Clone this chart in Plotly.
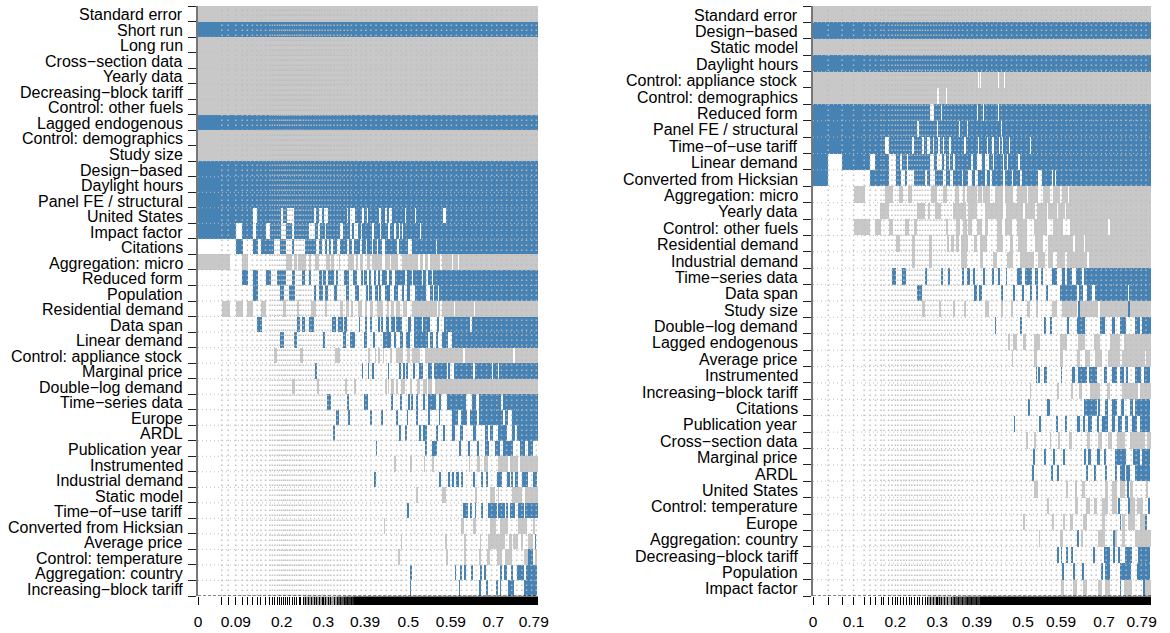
import plotly.graph_objects as go

MAX_X = 0.8
BLUE = "#4682B4"
GREY = "#C8C8C8"

left_labels = ["Standard error","Short run","Long run","Cross−section data","Yearly data","Decreasing−block tariff","Control: other fuels","Lagged endogenous","Control: demographics","Study size","Design−based","Daylight hours","Panel FE / structural","United States","Impact factor","Citations","Aggregation: micro","Reduced form","Population","Residential demand","Data span","Linear demand","Control: appliance stock","Marginal price","Double−log demand","Time−series data","Europe","ARDL","Publication year","Instrumented","Industrial demand","Static model","Time−of−use tariff","Converted from Hicksian","Average price","Control: temperature","Aggregation: country","Increasing−block tariff"]

# Each list: positions (cumulative model probability) where the variable toggles in/out; odd length = stays in to the end
left_blue = [
 [],[0],[],[],[],[],[],[0],[],[],[0],[0],[0],
 [0,.129,.138,.195,.201,.209,.226,.274,.278,.285,.291,.297,.305,.350,.354,.358,.369,.387,.391,.397,.399,.426,.431,.440,.444,.450,.456,.487,.489,.511,.513,.577,.583],
 [0,.089,.103,.130,.136,.160,.169,.195,.207,.221,.226,.260,.275,.283,.287,.298,.300,.334,.340,.358,.363,.367,.377,.383,.387,.409,.413,.428,.431,.448,.452,.462,.465,.474,.477,.481,.482,.522,.525,.533,.535],
 [.089,.106,.130,.140,.148,.179,.193,.206,.220,.226,.252,.278,.285,.291,.301,.304,.309,.313,.318,.326,.334,.351,.356,.363,.368,.381,.387,.395,.398,.409,.411,.420,.424,.432,.440,.469,.473,.495,.503,.559,.562],
 [],
 [.103,.117,.129,.140,.160,.172,.187,.206,.220,.228,.244,.252,.262,.267,.285,.291,.295,.301,.307,.320,.326,.330,.344,.355,.365,.373,.384,.387,.391,.398,.403,.407,.413,.419,.423,.428,.434,.444,.449,.456,.464,.487,.491,.503,.507,.526,.530,.536,.540,.550,.554],
 [.129,.140,.193,.202,.214,.228,.273,.278,.285,.295,.299,.305,.320,.327,.348,.356,.369,.379,.397,.399,.403,.409,.416,.424,.428,.431,.440,.452,.460,.471,.479,.485,.491,.499,.511,.536,.546,.552,.555,.565,.568],
 [],
 [.138,.151,.234,.240,.245,.251,.261,.273,.316,.324,.330,.342,.344,.351,.379,.381,.393,.397,.405,.408,.424,.426,.432,.434,.442,.450,.454,.464,.467,.479,.493,.501,.508,.526,.530,.547,.562,.568,.579,.640,.644],
 [.193,.202,.226,.233,.293,.299,.340,.348,.358,.369,.391,.398,.411,.416,.436,.454,.461,.467,.475,.482,.489,.499,.508,.540,.547,.554,.559,.565,.573,.589,.597],
 [],
 [.275,.280,.387,.388,.400,.402,.410,.412,.448,.449,.475,.478,.483,.486,.491,.495,.505,.511,.519,.530,.542,.550,.556,.585,.589,.593,.602,.648,.652,.691,.695,.707,.709],
 [],
 [.304,.313,.351,.353,.391,.399,.456,.458,.477,.480,.495,.497,.503,.505,.513,.518,.530,.533,.542,.560,.568,.571,.585,.631,.644,.654,.660,.714,.718],
 [.327,.331,.355,.357,.405,.408,.431,.433,.468,.470,.492,.493,.515,.516,.541,.547,.568,.569,.597,.611,.618,.632,.640,.657,.662,.718,.722,.730,.738],
 [.318,.322,.475,.478,.489,.492,.521,.524,.530,.538,.562,.563,.577,.579,.597,.605,.616,.623,.648,.654,.675,.683,.687,.695,.707,.726,.738,.746,.750],
 [.419,.421,.536,.539,.550,.562,.616,.618,.636,.638,.656,.661,.677,.679,.682,.685,.699,.711,.718,.742,.758,.769,.777,.789],
 [],
 [.416,.419,.568,.572,.589,.591,.599,.602,.609,.613,.620,.624,.648,.652,.666,.671,.679,.681,.703,.715,.726,.734,.738,.742,.746,.754,.762,.777,.789,.797],
 [],
 [.492,.495,.624,.636,.640,.644,.652,.654,.667,.671,.683,.703,.707,.722,.726,.730,.734,.746,.754,.768,.769],
 [],
 [.794,.795],
 [.777,.789],
 [.501,.504,.605,.607,.617,.620,.627,.630,.644,.645,.664,.668,.674,.677,.711,.715,.722,.726,.737,.742,.750,.766,.772,.797],
 [.499,.500,.615,.616,.662,.664,.679,.681,.703,.707,.711,.712,.729,.744,.767,.797],
]
left_grey = [
 [0],[],[0],[0],[0],[0],[0],[],[0],[0],[],[],[],[],[],[],
 [0,.075,.103,.118,.207,.221,.226,.234,.236,.254,.260,.265,.275,.285,.301,.311,.313,.321,.332,.334,.354,.367,.371,.377,.380,.389,.397,.405,.409,.432,.440,.452,.454,.471,.479,.518,.522,.529,.533,.542,.547,.569,.573,.585,.587,.597,.601,.611,.613],
 [],[],
 [.056,.075,.089,.105,.115,.130,.148,.160,.199,.207,.235,.238,.267,.278,.299,.304,.334,.342,.348,.355,.362,.365,.377,.385,.393,.398,.405,.411,.420,.435,.444,.449,.454,.460,.467,.475,.483,.491,.503,.562,.565,.569,.573,.602,.605,.649,.652],
 [],[],
 [.179,.187,.240,.247,.322,.334,.401,.405,.417,.418,.424,.428,.436,.437,.453,.456,.467,.483,.491,.499,.503,.522,.534,.546,.547,.597,.598,.624,.628,.742,.746],
 [],
 [.221,.228,.280,.285,.348,.351,.369,.371,.442,.444,.448,.449,.453,.461,.467,.471,.478,.487,.499,.503,.515,.522,.530,.538,.542,.550,.558],
 [],[],[],[],
 [.462,.464,.501,.503,.533,.534,.552,.553,.638,.640,.656,.664,.672,.683,.707,.730,.734,.754,.758],
 [],
 [.515,.516,.573,.583,.653,.656,.687,.699,.707,.708,.738,.762,.769],
 [],
 [.438,.440,.618,.626,.648,.654,.687,.701,.711,.730,.754,.773,.789,.791],
 [.478,.479,.583,.585,.628,.630,.664,.665,.683,.722,.734,.738,.742,.754,.762,.763,.777,.789],
 [.472,.474,.585,.586,.628,.630,.662,.667,.679,.687,.703,.715,.722,.738,.769,.773,.775,.779,.793,.797],
 [],[],
]
left_edges = [.056,.071,.089,.104,.116,.128,.139,.148,.159,.169,.175,.181,.187,.192,.197,.202,.206,.211,.216,.222,.227,.232,.238,.242,.248,.254,.260,.266,.273,.279,.286,.292,.299,.306,.312,.320,.328,.335,.344,.352,.361,.372,.384,.395,.407,.419,.431,.443,.455,.467,.478,.490,.502,.514,.526,.537,.549,.561,.573,.585,.596,.608,.620,.632,.644,.655,.667,.679,.691,.703,.714,.726,.738,.750,.762,.773,.785,.796]
left_ticks = [0,.089,.197,.295,.393,.495,.595,.695,.79]
tick_text_left = ["0","0.09","0.2","0.3","0.39","0.5","0.59","0.7","0.79"]
left_rug_from = [.250,.326,.345,.365]
left_rug_to = [.326,.345,.365,.80]
left_rug_shade = ["#a0a0a0","#555555","#333333","#000000"]

right_labels = ["Standard error","Design−based","Static model","Daylight hours","Control: appliance stock","Control: demographics","Reduced form","Panel FE / structural","Time−of−use tariff","Linear demand","Converted from Hicksian","Aggregation: micro","Yearly data","Control: other fuels","Residential demand","Industrial demand","Time−series data","Data span","Study size","Double−log demand","Lagged endogenous","Average price","Instrumented","Increasing−block tariff","Citations","Publication year","Cross−section data","Marginal price","ARDL","United States","Control: temperature","Europe","Aggregation: country","Decreasing−block tariff","Population","Impact factor"]
right_blue = [
 [],[0],[],[0],[],[],
 [0,.277,.286,.303,.305,.387,.390,.403,.405,.423,.424,.439,.440],
 [0,.246,.250,.293,.297,.319,.320,.346,.348,.364,.366,.445,.447],
 [0,.170,.180,.234,.238,.258,.263,.269,.278,.285,.287,.297,.301,.308,.311,.322,.326,.357,.361,.390,.393,.411,.415,.424,.428,.440,.443,.447,.450,.464,.466,.514,.515],
 [0,.036,.069,.135,.147,.180,.196,.206,.210,.222,.226,.277,.286,.294,.305,.310,.315,.322,.324,.332,.336,.373,.379,.387,.399,.407,.417,.427,.429,.450,.453,.458,.462,.486,.491],
 [0,.036,.135,.180,.196,.209,.219,.222,.239,.265,.270,.277,.289,.308,.314,.324,.331,.352,.356,.366,.376,.383,.391,.399,.401,.408,.413,.419,.423,.450,.454,.470,.474,.490,.494,.533,.542,.553,.555,.565,.567,.573,.575],
 [],[],[],[],[],
 [.188,.196,.211,.219,.264,.269,.303,.307,.320,.324,.353,.358,.364,.372,.379,.383,.403,.407,.424,.427,.440,.443,.457,.458,.482,.494,.502,.518,.525,.533,.541,.545,.565,.577,.589,.596,.600,.612,.622,.636,.641],
 [.246,.258,.383,.387,.394,.399,.447,.449,.474,.478,.496,.499,.514,.518,.529,.533,.553,.557,.585,.624,.630,.640,.648,.660,.667,.746,.749],
 [.628,.630,.746,.748],
 [.431,.433,.492,.495,.549,.551,.563,.565,.603,.606,.624,.644,.679,.691,.707,.715,.727,.742,.762,.774,.778],
 [],[],
 [.528,.530,.534,.537,.549,.553,.588,.589,.612,.620,.628,.648,.654,.673,.689,.695,.707,.719,.727,.735,.741,.746,.762,.776,.784,.797],
 [],
 [.510,.514,.556,.560,.641,.671,.675,.679,.691,.699,.708,.719,.731,.735,.750,.758,.762,.798],
 [.476,.477,.537,.539,.577,.581,.597,.599,.626,.632,.638,.644,.652,.660,.673,.675,.683,.699,.707,.715,.723,.731,.738,.746,.756,.766,.774,.798],
 [],
 [.523,.525,.549,.551,.570,.573,.594,.596,.642,.645,.652,.658,.671,.679,.691,.693,.715,.742,.758,.774,.778,.798],
 [.519,.521,.565,.569,.579,.582,.648,.652,.664,.670,.693,.695,.715,.720,.727,.738,.742,.750,.762,.798],
 [.745,.747],
 [.724,.727,.746,.749,.794,.798],
 [.727,.729,.787,.790],
 [.626,.630,.712,.714],
 [.578,.580,.587,.589,.600,.603,.612,.615,.665,.667,.689,.703,.711,.715,.723,.727,.738,.754,.770,.798],
 [.591,.592,.616,.618,.637,.640,.683,.686,.691,.703,.727,.753,.766,.798],
 [.727,.729,.782,.784],
]
right_grey = [
 [0],[],[0],[],
 [0,.391,.394,.395,.398,.439,.440,.452,.454],
 [0,.293,.298,.315,.316],
 [],[],[],[],[],
 [.097,.123,.170,.190,.204,.214,.225,.235,.279,.294,.308,.316,.336,.346,.356,.360,.364,.387,.391,.399,.403,.419,.431,.450,.454,.474,.482,.506,.510,.533,.545,.561,.569,.585,.589,.603,.605],
 [.159,.180,.246,.265,.271,.277,.289,.303,.332,.362,.368,.387,.407,.449,.457,.498,.502,.525,.531,.553,.557,.577,.581,.596,.599],
 [.097,.135,.147,.161,.180,.189,.218,.227,.239,.245,.314,.320,.338,.349,.356,.364,.368,.376,.387,.399,.407,.415,.435,.447,.454,.470,.482,.506,.522,.553,.569,.592,.608,.699,.703],
 [.196,.206,.235,.241,.275,.281,.316,.322,.326,.334,.338,.346,.350,.368,.380,.387,.395,.411,.435,.450,.466,.474,.486,.506,.525,.545,.557,.616,.620,.641,.644],
 [.235,.241,.275,.281,.350,.364,.395,.403,.427,.435,.458,.474,.490,.522,.533,.549,.557,.569,.577,.596,.600,.648,.654],
 [],[],
 [.258,.265,.299,.303,.332,.336,.358,.361,.408,.417,.447,.450,.470,.474,.506,.514,.529,.533,.565,.577,.589,.624,.632,.675,.679,.746,.749],
 [],
 [.462,.466,.474,.482,.498,.504,.522,.537,.585,.600,.628,.644,.664,.679,.703,.727,.735],
 [.472,.473,.522,.529,.585,.592,.624,.632,.644,.656,.667,.683,.699,.727,.731,.786,.788],
 [],
 [.514,.515,.577,.583,.610,.616,.630,.636,.656,.679,.695,.703,.731,.770,.774],
 [],[],
 [.506,.510,.525,.528,.561,.563,.581,.585,.608,.612,.648,.656,.675,.683,.699,.707,.719,.738,.750,.786,.790],
 [],[],
 [.524,.532,.600,.604,.620,.626,.636,.644,.691,.699,.707,.719,.727,.738,.750,.757,.790,.794],
 [.555,.557,.620,.628,.646,.656,.664,.671,.683,.699,.707,.719,.750,.762,.766,.782],
 [.498,.500,.567,.570,.592,.596,.608,.616,.640,.648,.683,.691,.731,.738,.746,.762,.774,.787],
 [.536,.537,.585,.592,.636,.640,.675,.691,.711,.719,.731,.738,.762],
 [],[],
 [.589,.593,.616,.624,.640,.648,.675,.683,.691,.703,.735,.754,.786],
]
right_edges = [.036,.069,.096,.121,.135,.148,.161,.168,.179,.187,.195,.201,.208,.215,.221,.228,.234,.241,.247,.253,.259,.266,.272,.279,.286,.292,.299,.305,.312,.319,.327,.336,.345,.354,.365,.376,.388,.399,.411,.423,.434,.446,.458,.470,.482,.493,.505,.517,.529,.541,.552,.564,.576,.588,.600,.611,.623,.635,.647,.659,.670,.682,.694,.706,.718,.729,.741,.753,.765,.777,.788]
right_ticks = [0,.096,.195,.294,.388,.497,.587,.689,.778]
tick_text_right = ["0","0.1","0.2","0.3","0.39","0.5","0.59","0.7","0.79"]
right_rug_from = [.272,.330,.360,.395]
right_rug_to = [.330,.360,.395,.80]
right_rug_shade = ["#a0a0a0","#555555","#333333","#000000"]


def spans(toggles):
    t = list(toggles)
    if len(t) % 2:
        t.append(MAX_X)
    return list(zip(t[0::2], t[1::2]))


def add_panel(fig, labels, blue, grey, edges, ticks, tick_text, ax, domain_x):
    n = len(labels)
    xa, ya = "x" + ax, "y" + ax
    for rows, colour in ((grey, GREY), (blue, BLUE)):
        base, width, ypos = [], [], []
        for i, row in enumerate(rows):
            for a, b in spans(row):
                base.append(a); width.append(b - a); ypos.append(n - 0.5 - i)
        fig.add_trace(go.Bar(y=ypos, x=width, base=base, orientation="h", width=1, marker=dict(color=colour, line=dict(width=0)), xaxis=xa, yaxis=ya, hoverinfo="skip", showlegend=False))
    vx, vy = [], []
    for e in edges:
        vx += [e, e, None]; vy += [0, n, None]
    fig.add_trace(go.Scatter(x=vx, y=vy, mode="lines", line=dict(color="rgba(188,188,188,0.92)", width=1.5, dash="1.5px,3.5px"), xaxis=xa, yaxis=ya, hoverinfo="skip", showlegend=False))
    hx, hy = [], []
    for j in range(1, n):
        hx += [0, MAX_X, None]; hy += [j, j, None]
    fig.add_trace(go.Scatter(x=hx, y=hy, mode="lines", line=dict(color="rgba(188,188,188,0.92)", width=1, dash="1px,3px"), xaxis=xa, yaxis=ya, hoverinfo="skip", showlegend=False))
    fig.add_trace(go.Scatter(x=[0, MAX_X], y=[0, 0], mode="lines", line=dict(color="#111111", width=1, dash="3px,2px"), xaxis=xa, yaxis=ya, hoverinfo="skip", showlegend=False, cliponaxis=False))
    tick_map = {e: "" for e in edges}
    tick_map.update(zip(ticks, tick_text))
    tv = sorted(tick_map)
    tt = [tick_map[v] for v in tv]
    axis_x = dict(domain=domain_x, range=[0, MAX_X], anchor=ya, tickmode="array", tickvals=tv, ticktext=tt, ticks="outside", ticklen=8, tickcolor="#000000", tickwidth=1, tickangle=0, ticklabelstandoff=3, tickfont=dict(family="Liberation Sans", size=15.5, color="#000000"), showgrid=False, zeroline=False, showline=False)
    axis_y = dict(domain=DOMAIN_Y, range=[0, n], anchor=xa, tickmode="array", tickvals=list(range(n + 1)), ticks="outside", ticklen=8, tickcolor="#222222", tickwidth=1, showticklabels=False, showgrid=False, zeroline=False, showline=True, linecolor="#777777", linewidth=2)
    return axis_x, axis_y


W, H = 1170, 633
DOMAIN_Y = [1 - 596 / H, 1 - 6 / H]
fig = go.Figure()
lx, ly = add_panel(fig, left_labels, left_blue, left_grey, left_edges, left_ticks, tick_text_left, "", [198 / W, 538 / W])
rx, ry = add_panel(fig, right_labels, right_blue, right_grey, right_edges, right_ticks, tick_text_right, "2", [813 / W, 1151 / W])

annotations, shapes = [], []
for labels, xr, yr in ((left_labels, "x domain", "y"), (right_labels, "x2 domain", "y2")):
    n = len(labels)
    for i, lab in enumerate(labels):
        annotations.append(dict(text=lab, x=0, xref=xr, y=n - 0.5 - i, yref=yr, xanchor="right", yanchor="middle", xshift=-13, yshift=-1, showarrow=False, font=dict(family="Liberation Sans", size=16, color="#000000")))
for frm, to, shade, xr in ((left_rug_from, left_rug_to, left_rug_shade, "x"), (right_rug_from, right_rug_to, right_rug_shade, "x2")):
    for a, b, c in zip(frm, to, shade):
        shapes.append(dict(type="rect", xref=xr, yref="paper", x0=a, x1=b, y0=1 - 596.5 / H, y1=1 - 605 / H, fillcolor=c, line=dict(width=0), layer="below"))

fig.update_layout(width=W, height=H, margin=dict(l=0, r=0, t=0, b=0, autoexpand=False), paper_bgcolor="white", plot_bgcolor="white", barmode="overlay", bargap=0, showlegend=False, xaxis=lx, yaxis=ly, xaxis2=rx, yaxis2=ry, annotations=annotations, shapes=shapes)
fig.write_html("out.html", config={"displayModeBar": False}, post_script="document.body.style.margin='0';document.documentElement.style.overflow='hidden';")
